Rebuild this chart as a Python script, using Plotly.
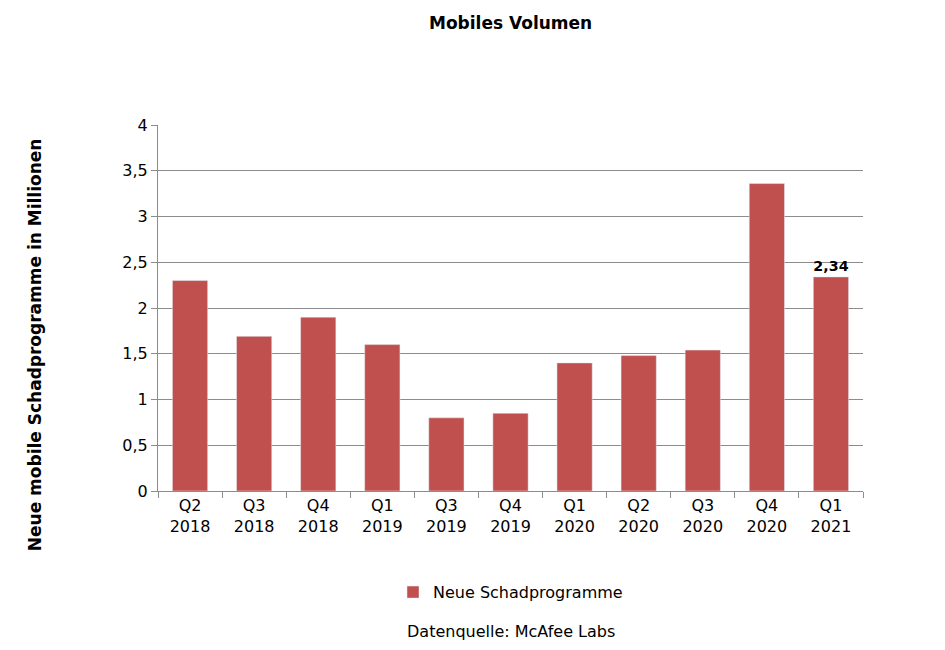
import plotly.graph_objects as go

quarters = ["Q2<br>2018", "Q3<br>2018", "Q4<br>2018", "Q1<br>2019", "Q3<br>2019", "Q4<br>2019",
            "Q1<br>2020", "Q2<br>2020", "Q3<br>2020", "Q4<br>2020", "Q1<br>2021"]
values = [2.30, 1.69, 1.90, 1.60, 0.80, 0.85, 1.40, 1.48, 1.54, 3.36, 2.34]
labels = [""] * 10 + ["<b>2,34</b>"]

font = "DejaVu Sans"

fig = go.Figure()
fig.add_trace(go.Bar(
    x=quarters, y=values, name="Neue Schadprogramme",
    marker_color="#C0504D", width=0.55,
    text=labels, textposition="outside", textfont=dict(size=18, color="black"),
    cliponaxis=False,
))

fig.update_layout(
    width=945, height=650,
    plot_bgcolor="white", paper_bgcolor="white",
    font=dict(family=font, size=16, color="black"),
    margin=dict(l=150, r=90, t=117, b=167, autoexpand=False),
    showlegend=True,
    legend=dict(orientation="h", x=0.5, xanchor="center", y=-0.23, yanchor="top",
                font=dict(size=16)),
    separators=", ",
)
fig.update_yaxes(range=[0, 4], dtick=0.5, tickformat=".1~f",
                 showgrid=True, gridcolor="#8c8c8c", gridwidth=1,
                 showline=True, linecolor="#8c8c8c", ticks="outside", tickcolor="#8c8c8c",
                 ticklen=6, zeroline=False)
fig.update_xaxes(showline=True, linecolor="#8c8c8c", ticks="outside", tickcolor="#8c8c8c",
                 ticklen=6, tickson="boundaries")

fig.add_annotation(text="Schadsoftware<br><b>Mobiles Volumen</b>", xref="paper", yref="paper",
                   x=0.5, y=1.31, showarrow=False, yanchor="middle", font=dict(size=17))
fig.add_annotation(text="<b>Neue mobile Schadprogramme in Millionen</b>", xref="paper", yref="paper",
                   x=-0.175, y=0.4, xanchor="center", showarrow=False, textangle=-90,
                   font=dict(size=17))
fig.add_annotation(text="Datenquelle: McAfee Labs", xref="paper", yref="paper",
                   x=0.5, y=-0.385, showarrow=False, yanchor="middle", font=dict(size=16))

fig.write_html("out.html")
